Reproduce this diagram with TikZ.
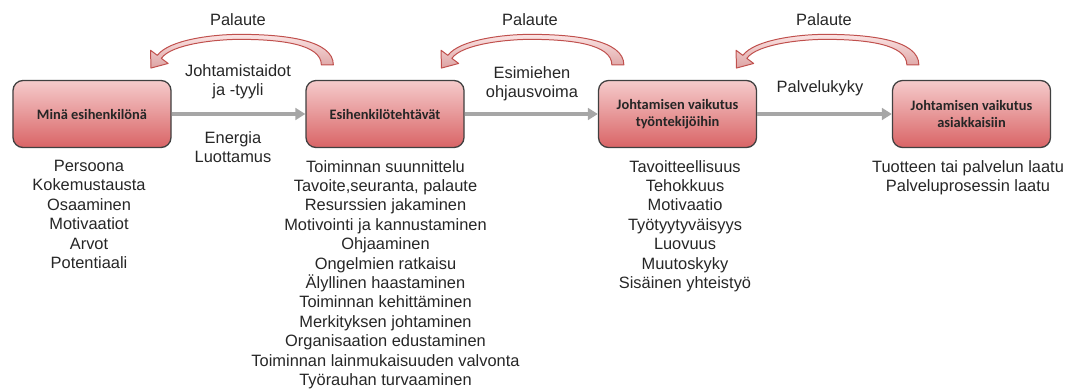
\documentclass[tikz,border=0pt]{standalone}
\usepackage{fontspec}
\setmainfont{Liberation Sans}
\newfontfamily\boxfont{Carlito}
\usetikzlibrary{arrows.meta,calc}
\definecolor{boxtop}{HTML}{F5CBCB}
\definecolor{boxbot}{HTML}{D96466}
\definecolor{boxline}{HTML}{404040}
\definecolor{connc}{HTML}{A6A6A6}
\definecolor{fbline}{HTML}{C0504D}
\definecolor{fbtop}{HTML}{FBE4E4}
\definecolor{fbbot}{HTML}{DDA3A3}
\definecolor{txt}{HTML}{262626}
\begin{document}
\begin{tikzpicture}[x=0.03cm,y=-0.03cm,
  stage/.style={draw=boxline, line width=1.1pt, rounded corners=0.3cm,
    top color=boxtop, bottom color=boxbot,
    minimum width=4.74cm, minimum height=2.01cm, inner sep=0pt,
    align=center, text=txt,
    font=\boxfont\bfseries\fontsize{12.3}{14.8}\selectfont},
  connector/.style={draw=connc, line width=2.6pt,
    -{Triangle[length=8.5pt,width=10pt]}},
  lbl/.style={inner sep=0pt, align=center, text=txt,
    font=\fontsize{14}{16.8}\selectfont},
  listtext/.style={inner sep=0pt, align=center, text=txt, anchor=north,
    font=\fontsize{14}{16.55}\selectfont},
  fbshape/.style={draw=fbline, line width=0.85pt, top color=fbtop,
    bottom color=fbbot, line join=round},
  fbarrow/.pic={
    \path[fbshape] (6,0) .. controls (6,-25) and (-43,-30.5) .. (-88,-30.5)
      .. controls (-113,-30.5) and (-158,-25.5) .. (-170,-9.5)
      -- (-176.8,-14.6) -- (-176.4,3.2) -- (-159.2,-1.4) -- (-166,-6.5)
      .. controls (-156,-21) and (-110,-25.5) .. (-88,-25.5)
      .. controls (-48,-25.5) and (-6,-21) .. (-6,0) -- cycle;
  }]
\useasboundingbox (0,0) rectangle (1069,390);

% stages
\node[stage] (b1) at (92,114) {Minä esihenkilönä};
\node[stage] (b2) at (385,114) {Esihenkilötehtävät};
\node[stage] (b3) at (677.5,114) {Johtamisen vaikutus\\työntekijöihin};
\node[stage] (b4) at (971.5,114) {Johtamisen vaikutus\\asiakkaisiin};

% connectors
\draw[connector] (b1.east) -- (b2.west);
\draw[connector] (b2.east) -- (b3.west);
\draw[connector] (b3.east) -- (b4.west);

% feedback arrows
\pic at ($(b2.north west)+(22,-15)$) {fbarrow};
\pic at ($(b3.north west)+(20,-15)$) {fbarrow};
\pic at ($(b4.north west)+(21,-15)$) {fbarrow};

\node[lbl, anchor=north] (p1) at (238,13) {Palaute};
\node[lbl, anchor=north] (p2) at (530,13) {Palaute};
\node[lbl, anchor=north] (p3) at (824,13) {Palaute};

% connector labels
\node[lbl, anchor=north] (c1a) at (238,64) {Johtamistaidot\\ja -tyyli};
\node[lbl, anchor=north] (c1b) at (233,131) {Energia\\Luottamus};
\node[lbl, anchor=north] (c2a) at (532,66) {Esimiehen\\ohjausvoima};
\node[lbl, anchor=north] (c3a) at (820,80) {Palvelukyky};

% lists
\node[listtext] (t1) at (89,160) {Persoona\\Kokemustausta\\Osaaminen\\Motivaatiot\\Arvot\\Potentiaali};
\node[listtext] (t2) at (385.5,160) {Toiminnan suunnittelu\\Tavoite,seuranta,\ palaute\\Resurssien jakaminen\\Motivointi ja kannustaminen\\Ohjaaminen\\Ongelmien ratkaisu\\Älyllinen haastaminen\\Toiminnan kehittäminen\\Merkityksen johtaminen\\Organisaation edustaminen\\Toiminnan lainmukaisuuden valvonta\\Työrauhan turvaaminen};
\node[listtext] (t3) at (685,160) {Tavoitteellisuus\\Tehokkuus\\Motivaatio\\Työtyytyväisyys\\Luovuus\\Muutoskyky\\Sisäinen yhteistyö};
\node[listtext] (t4) at (968,160) {Tuotteen tai palvelun laatu\\Palveluprosessin laatu};
\end{tikzpicture}
\end{document}
